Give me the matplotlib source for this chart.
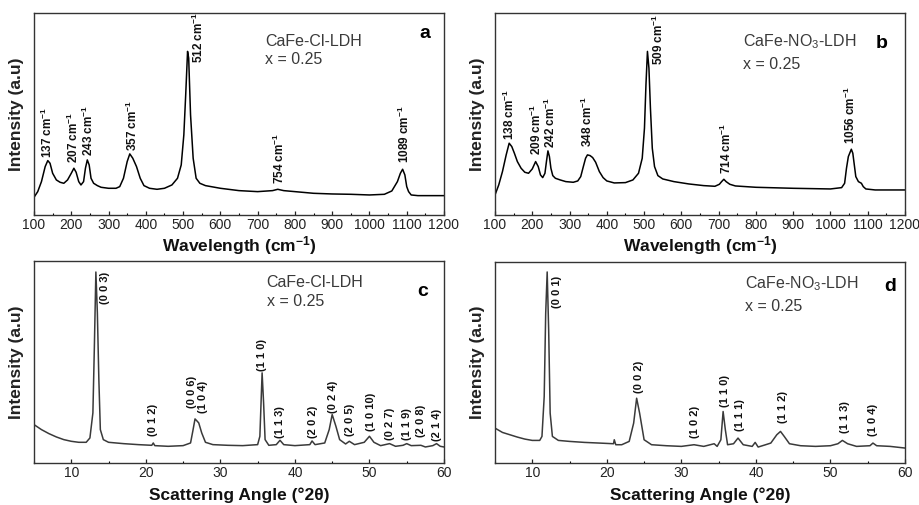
import numpy as np
import matplotlib
matplotlib.use("Agg")
import matplotlib.pyplot as plt
from matplotlib.ticker import MultipleLocator

plt.rcParams['font.family'] = ['Liberation Sans', 'DejaVu Sans']
plt.rcParams['mathtext.fontset'] = 'custom'
plt.rcParams['mathtext.rm'] = 'Liberation Sans'
plt.rcParams['mathtext.bf'] = 'Liberation Sans:bold'
plt.rcParams['mathtext.it'] = 'Liberation Sans:italic'

# ---------------- data: Raman, CaFe-Cl-LDH (panel a) ----------------
ra_x = [100, 110, 120, 130, 137, 143, 150, 160, 170, 180, 190, 200, 207, 213, 220, 226,
        233, 238, 243, 248, 253, 260, 270, 280, 300, 320, 330, 340, 350, 357, 365, 375,
        385, 395, 410, 430, 450, 470, 485, 495, 502, 507, 512, 515, 520, 527, 535, 545,
        560, 600, 650, 700, 740, 754, 770, 800, 820, 850, 900, 950, 1000, 1040, 1060,
        1075, 1083, 1089, 1095, 1100, 1105, 1112, 1130, 1200]
ra_y = [53, 70, 100, 145, 163, 155, 125, 105, 98, 95, 105, 125, 140, 128, 100, 90,
        100, 140, 165, 150, 110, 95, 88, 83, 80, 80, 85, 110, 160, 183, 170, 145,
        110, 88, 80, 77, 80, 90, 110, 150, 240, 360, 490, 470, 300, 170, 110, 95,
        88, 80, 73, 70, 73, 77, 73, 70, 68, 65, 63, 62, 60, 62, 72,
        100, 125, 137, 120, 85, 70, 60, 58, 58]
ra_peaks = [137, 207, 243, 357, 512, 754, 1089]

# ---------------- data: Raman, CaFe-NO3-LDH (panel b) ----------------
rb_x = [100, 105, 110, 120, 130, 138, 145, 152, 160, 170, 180, 190, 200, 209, 216, 222,
        228, 234, 238, 242, 246, 250, 255, 262, 275, 290, 310, 322, 330, 337, 343, 348,
        355, 362, 370, 380, 390, 400, 420, 450, 470, 485, 495, 501, 505, 509, 513, 517,
        522, 528, 537, 550, 580, 620, 660, 690, 702, 708, 714, 720, 730, 745, 800, 900,
        1000, 1030, 1038, 1043, 1048, 1056, 1060, 1064, 1068, 1075, 1083, 1088, 1095,
        1120, 1200]
rb_y = [60, 75, 90, 130, 180, 215, 205, 185, 160, 140, 128, 125, 138, 160, 145, 120,
        112, 125, 160, 192, 175, 140, 118, 110, 105, 100, 98, 102, 115, 145, 170, 180,
        178, 172, 158, 130, 112, 102, 96, 97, 105, 125, 170, 260, 390, 490, 440, 320,
        200, 145, 118, 108, 100, 93, 88, 86, 92, 100, 107, 100, 92, 87, 83, 80,
        78, 82, 95, 140, 175, 197, 185, 150, 115, 100, 95, 85, 78,
        75, 75]
rb_peaks = [138, 209, 242, 348, 509, 714, 1056]

# ---------------- data: XRD, CaFe-Cl-LDH (panel c) ----------------
xc_x = [5, 6, 7, 8, 9, 10, 11, 12, 12.5, 12.9, 13.1, 13.3, 13.5, 13.7, 13.9, 14.3, 15,
        17, 19, 20.8, 21.0, 21.2, 23, 25, 26, 26.3, 26.6, 26.9, 27.1, 27.5, 28, 29, 31,
        33, 35, 35.3, 35.6, 35.8, 36.0, 36.5, 37.5, 38.0, 38.5, 40, 42, 42.3, 42.7, 44,
        44.6, 45.0, 45.5, 46, 46.8, 47.3, 48, 49.3, 50.0, 50.6, 51.5, 52.7, 53.5, 54.5,
        55.0, 55.6, 56.9, 57.5, 58.5, 59.0, 59.5, 60]
xc_y = [115, 100, 88, 78, 70, 65, 62, 62, 75, 150, 350, 572, 450, 250, 100, 70, 62,
        58, 55, 53, 60, 52, 50, 52, 60, 95, 132, 125, 120, 90, 62, 55, 53,
        52, 55, 80, 270, 180, 70, 53, 55, 68, 55, 52, 55, 66, 55, 60,
        100, 145, 110, 70, 57, 65, 55, 62, 80, 62, 52, 58, 50, 53,
        58, 52, 53, 48, 52, 58, 50, 48]
xc_peaks = [13.3, 21.0, 26.6, 27.1, 35.6, 38.0, 42.3, 45.0, 47.3, 50.0, 52.7, 55.0, 56.9, 59.0]
xc_hkl = ['(0 0 3)', '(0 1 2)', '(0 0 6)', '(1 0 4)', '(1 1 0)', '(1 1 3)', '(2 0 2)',
          '(0 2 4)', '(2 0 5)', '(1 0 10)', '(0 2 7)', '(1 1 9)', '(2 0 8)', '(2 1 4)']

# ---------------- data: XRD, CaFe-NO3-LDH (panel d) ----------------
xd_x = [5, 6, 7, 8, 9, 10, 11, 11.3, 11.6, 11.8, 12.0, 12.2, 12.4, 12.7, 13.5, 15, 17,
        19, 20.9, 21.0, 21.2, 22, 23, 23.6, 24.0, 24.4, 25, 26, 28, 30, 31.7, 33, 34.4,
        34.8, 35.3, 35.6, 35.9, 36.2, 37, 37.6, 38.3, 39.5, 39.9, 40.3, 41.3, 42, 42.8,
        43.3, 43.8, 44.5, 46, 48, 50, 51, 51.6, 52.3, 53.5, 55.3, 55.7, 56.2, 58, 60]
xd_y = [105, 92, 85, 78, 72, 68, 68, 80, 200, 450, 575, 400, 150, 80, 68, 65, 62,
        60, 58, 70, 55, 55, 65, 120, 195, 150, 70, 55, 52, 50, 55, 50, 58,
        50, 70, 155, 100, 55, 58, 75, 55, 50, 62, 48, 55, 60, 85,
        95, 80, 58, 52, 50, 52, 58, 68, 58, 50, 52, 60, 52, 50, 45]
xd_peaks = [12.0, 24.0, 31.7, 35.6, 37.6, 43.3, 51.6, 55.7]
xd_hkl = ['(0 0 1)', '(0 0 2)', '(1 0 2)', '(1 1 0)', '(1 1 1)', '(1 1 2)', '(1 1 3)', '(1 0 4)']

raman_xticks = [100, 200, 300, 400, 500, 600, 700, 800, 900, 1000, 1100, 1200]
xrd_xticks = [10, 20, 30, 40, 50, 60]

# ---------------- figure ----------------
fig = plt.figure(figsize=(9.2, 5.05), dpi=100)
W, H = 920, 505

def make_ax(x0, x1, ytop, ybot):
    return fig.add_axes([x0 / W, (H - ybot) / H, (x1 - x0) / W, (ybot - ytop) / H])

ax_a = make_ax(34, 444, 13, 215)
ax_b = make_ax(495, 905, 13, 215)
ax_c = make_ax(34, 444, 261, 463)
ax_d = make_ax(495, 905, 262, 463)

def style(ax, xlim, ticks, minor, xlabel, label_y):
    ax.set_xlim(*xlim)
    ax.set_ylim(0, 605)
    ax.set_xticks(ticks)
    ax.xaxis.set_minor_locator(MultipleLocator(minor))
    ax.set_yticks([])
    ax.tick_params(axis='x', which='major', direction='in', length=3, width=0.9,
                   labelsize=10, pad=2.5, colors='#222222')
    ax.tick_params(axis='x', which='minor', direction='in', length=1.8, width=0.8)
    for s in ax.spines.values():
        s.set_color('#333333')
        s.set_linewidth(1.0)
    ax.set_ylabel('Intensity (a.u)', fontsize=12.5, fontweight='bold', color='#222222')
    ax.yaxis.set_label_coords(-0.024, 0.5)
    ax.set_xlabel(xlabel, fontsize=12.5, fontweight='bold', color='#111111')
    ax.xaxis.set_label_coords(0.5, label_y)
    ax.xaxis.label.set_va('top')

def annotate_peaks(ax, xs, ys, peaks, labels, offsets, size):
    for p, lab, (dx, dy) in zip(peaks, labels, offsets):
        yv = np.interp(p, xs, ys)
        ax.annotate(lab, xy=(p, yv), xytext=(dx, dy), textcoords='offset points',
                    rotation=90, ha='center', va='bottom', fontsize=size,
                    fontweight='bold', color='#111111', annotation_clip=False)

# panel a
ax_a.plot(ra_x, ra_y, color='black', lw=1.1)
style(ax_a, (100, 1200), raman_xticks, 50, r'Wavelength (cm$^{\mathbf{-1}}$)', -0.095)
annotate_peaks(ax_a, ra_x, ra_y, ra_peaks,
               [f'{p} cm$^{{\\mathbf{{-1}}}}$' for p in ra_peaks],
               [(0, 2), (0, 4), (1, 3), (2, 2), (8, -8), (1.5, 4), (1.5, 4.5)], 8.5)
ax_a.text(720, 520, 'CaFe-Cl-LDH', fontsize=11.5, color='#3a3a3a', va='center')
ax_a.text(720, 465, 'x = 0.25', fontsize=11.5, color='#3a3a3a', va='center')
ax_a.text(1148, 545, 'a', fontsize=14, fontweight='bold', va='center', ha='center')

# panel b
ax_b.plot(rb_x, rb_y, color='black', lw=1.1)
style(ax_b, (100, 1200), raman_xticks, 50, r'Wavelength (cm$^{\mathbf{-1}}$)', -0.095)
annotate_peaks(ax_b, rb_x, rb_y, rb_peaks,
               [f'{p} cm$^{{\\mathbf{{-1}}}}$' for p in rb_peaks],
               [(0, 2), (0.5, 5), (1.5, 2), (0, 5.5), (8, -9.5), (2, 4), (-1, 4)], 8.5)
ax_b.text(766, 520, 'CaFe-NO$_3$-LDH', fontsize=11.5, color='#3a3a3a', va='center')
ax_b.text(766, 450, 'x = 0.25', fontsize=11.5, color='#3a3a3a', va='center')
ax_b.text(1138, 515, 'b', fontsize=14, fontweight='bold', va='center', ha='center')

# panel c
ax_c.plot(xc_x, xc_y, color='#3a3a3a', lw=1.1)
style(ax_c, (5, 60), xrd_xticks, 5, 'Scattering Angle (°2θ)', -0.12)
annotate_peaks(ax_c, xc_x, xc_y, xc_peaks, xc_hkl,
               [(6.4, -23), (0, 4.8), (-2.1, 7.9), (3.2, 7.2), (0, 1.2), (0, 1.7),
                (1, 2), (0.5, 1.2), (0.5, 3.6), (1, 3.6), (0, 2.9), (0, 2.9), (0, 6), (0, 1.7)], 8)
ax_c.text(36.2, 540, 'CaFe-Cl-LDH', fontsize=11.5, color='#3a3a3a', va='center')
ax_c.text(36.2, 485, 'x = 0.25', fontsize=11.5, color='#3a3a3a', va='center')
ax_c.text(57.2, 515, 'c', fontsize=14, fontweight='bold', va='center', ha='center')

# panel d
ax_d.plot(xd_x, xd_y, color='#3a3a3a', lw=1.1)
style(ax_d, (5, 60), xrd_xticks, 5, 'Scattering Angle (°2θ)', -0.12)
annotate_peaks(ax_d, xd_x, xd_y, xd_peaks, xd_hkl,
               [(7, -26), (1.6, 3.6), (1, 4.8), (1.6, 3), (1.6, 4.8), (1.6, 6), (1.6, 5.3), (0, 4.8)], 8)
ax_d.text(38.6, 540, 'CaFe-NO$_3$-LDH', fontsize=11.5, color='#3a3a3a', va='center')
ax_d.text(38.6, 470, 'x = 0.25', fontsize=11.5, color='#3a3a3a', va='center')
ax_d.text(58, 530, 'd', fontsize=14, fontweight='bold', va='center', ha='center')

fig.savefig('out.png', dpi=100, facecolor='white')
